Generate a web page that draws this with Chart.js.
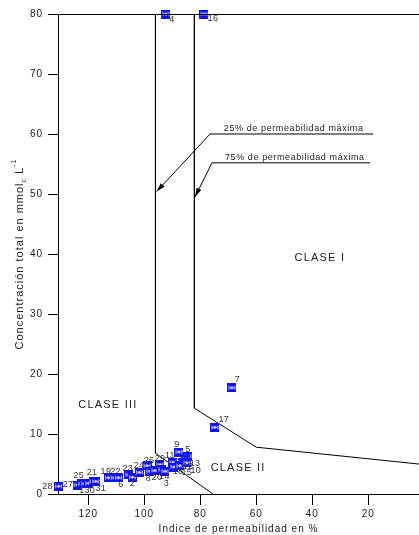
<!DOCTYPE html>
<html>
<head>
<meta charset="utf-8">
<script src="https://cdn.jsdelivr.net/npm/chart.js@4.4.1/dist/chart.umd.min.js"></script>
<style>
  html, body { margin: 0; padding: 0; background: #fff; overflow: hidden; }
  /* el marco derecho del diagrama queda fuera de la ventana */
  #wrap { width: 425px; height: 535px; position: relative; }
</style>
</head>
<body>
<div id="wrap"><canvas id="c"></canvas></div>
<script>
// Muestras: índice de permeabilidad (%) y concentración total (mmolc L-1)
const sampleIds = [28, 27, 25, 1, 30, 21, 31, 19, 22, 6, 23, 2, 24, 26, 8, 29, 20, 14, 3, 11, 9, 5, 18, 12, 15, 13, 10, 4, 16, 7, 17];
const permIndex = [130.6, 124.0, 122.3, 121.2, 119.8, 118.3, 117.3, 112.8, 110.8, 109.2, 105.5, 104.2, 101.7, 99.0, 98.0, 94.4, 96.2, 93.7, 92.6, 89.8, 87.6, 84.4, 89.4, 86.5, 87.3, 85.1, 84.8, 92.3, 78.7, 68.7, 74.8];
const totalConc = [1.3, 1.5, 1.7, 1.7, 1.8, 2.1, 2.1, 2.7, 2.7, 2.7, 3.2, 2.8, 3.6, 4.7, 3.8, 4.9, 3.9, 4.1, 3.8, 5.3, 7.0, 6.3, 4.5, 5.3, 4.7, 5.8, 5.2, 80, 80, 17.7, 11.1];

// Límites de clase (25 % y 75 % de permeabilidad máxima)
const limit25X = [96.0, 96.0, 75.5];
const limit25Y = [80, 6.8, 0];
const limit75X = [82.1, 82.1, 60, 0];
const limit75Y = [80, 14.3, 7.8, 4.9];

// Flechas de leyenda
const arrow25X = [18.3, 76.5, 95.6];
const arrow25Y = [60, 60, 50.4];
const arrow75X = [19.4, 75.8, 81.9];
const arrow75Y = [55.2, 55.2, 49.5];
const arrowTexts = ['25% de permeabilidad máxima', '75% de permeabilidad máxima'];
const arrowTextAt = [[71.6, 60], [71.2, 55.2]];

// Rótulos de clase
const classNames = ['CLASE I', 'CLASE II', 'CLASE III'];
const classAt = [[37.3, 39.3], [66.5, 4.3], [113, 14.8]];

// Ejes
const xTicks = [120, 100, 80, 60, 40, 20];
const yTicks = [0, 10, 20, 30, 40, 50, 60, 70, 80];
const xTitle = 'Indice de permeabilidad en %';

// Desplazamiento (px) de cada número respecto a su marcador
const labelOffsets = [
  [-11, 0], [-9, 0], [-3, -8], [-3, 7], [1, 7], [-1, -8.5], [5, 7], [-2.5, -6.5], [1.5, -6.5], [2.5, 7],
  [-1, -6], [0, 6.5], [-0.5, -7], [2, -5.5], [-1.5, 7.5], [0, -6.5], [2, 6.5], [2.5, 7.5], [1.5, 12], [-3, -7],
  [-2, -7], [0, -7], [4, 5], [6, 4], [7, 7], [9, 4], [9, 8], [6, 6], [9, 5], [5.5, -8.5], [9, -7.5]
];

const toXY = (xs, ys) => xs.map((v, i) => ({ x: v, y: ys[i] }));

// Marcador: cuadro con aspa y círculo central
function makeMarker() {
  const s = 9, m = document.createElement('canvas');
  m.width = s; m.height = s;
  const g = m.getContext('2d');
  g.fillStyle = '#fff';
  g.fillRect(0, 0, s, s);
  g.strokeStyle = '#0a0aff';
  g.lineWidth = 1.3;
  g.strokeRect(0.7, 0.7, s - 1.4, s - 1.4);
  g.beginPath();
  g.moveTo(0.5, 0.5); g.lineTo(s - 0.5, s - 0.5);
  g.moveTo(s - 0.5, 0.5); g.lineTo(0.5, s - 0.5);
  g.stroke();
  g.fillStyle = '#0a0aff';
  g.beginPath(); g.moveTo(1, 1); g.lineTo(s - 1, 1); g.lineTo(s / 2, s / 2); g.closePath(); g.fill();
  g.beginPath(); g.moveTo(1, s - 1); g.lineTo(s - 1, s - 1); g.lineTo(s / 2, s / 2); g.closePath(); g.fill();
  g.fillStyle = '#fff';
  g.beginPath(); g.arc(s / 2, s / 2, 1.8, 0, Math.PI * 2); g.fill();
  g.lineWidth = 0.9;
  g.stroke();
  return m;
}

const FONT = '"Liberation Sans", Arial, sans-serif';
const TEXT = '#222';

const lineStyle = { showLine: true, pointRadius: 0, borderColor: '#000', borderWidth: 1, fill: false, tension: 0 };

const decor = {
  id: 'decor',
  beforeDraw(chart) {
    chart.ctx.letterSpacing = '0.9px';
  },
  afterDatasetsDraw(chart) {
    const { ctx, chartArea: a, scales: { x, y } } = chart;
    ctx.save();
    // línea superior del marco
    ctx.strokeStyle = '#000'; ctx.lineWidth = 1;
    ctx.beginPath(); ctx.moveTo(a.left, Math.round(a.top) + 0.5); ctx.lineTo(a.right, Math.round(a.top) + 0.5); ctx.stroke();

    // puntas de flecha
    [[arrow25X, arrow25Y], [arrow75X, arrow75Y]].forEach(([xs, ys]) => {
      const n = xs.length;
      const x1 = x.getPixelForValue(xs[n - 2]), y1 = y.getPixelForValue(ys[n - 2]);
      const x2 = x.getPixelForValue(xs[n - 1]), y2 = y.getPixelForValue(ys[n - 1]);
      const ang = Math.atan2(y2 - y1, x2 - x1), L = 9, W = 2.6;
      ctx.fillStyle = '#000';
      ctx.beginPath();
      ctx.moveTo(x2, y2);
      ctx.lineTo(x2 - L * Math.cos(ang) + W * Math.sin(ang), y2 - L * Math.sin(ang) - W * Math.cos(ang));
      ctx.lineTo(x2 - L * Math.cos(ang) - W * Math.sin(ang), y2 - L * Math.sin(ang) + W * Math.cos(ang));
      ctx.closePath(); ctx.fill();
    });

    // textos de las flechas
    ctx.fillStyle = TEXT;
    ctx.font = '9px ' + FONT;
    ctx.letterSpacing = '0.6px';
    ctx.textAlign = 'left'; ctx.textBaseline = 'alphabetic';
    arrowTexts.forEach((t, i) => {
      ctx.fillText(t, x.getPixelForValue(arrowTextAt[i][0]), y.getPixelForValue(arrowTextAt[i][1]) - 3);
    });

    // rótulos de clase
    ctx.font = '11px ' + FONT;
    ctx.letterSpacing = '1.2px';
    ctx.textAlign = 'center'; ctx.textBaseline = 'middle';
    classNames.forEach((t, i) => {
      ctx.fillText(t, x.getPixelForValue(classAt[i][0]), y.getPixelForValue(classAt[i][1]));
    });

    // números de muestra
    ctx.font = '9px ' + FONT;
    ctx.letterSpacing = '0.3px';
    ctx.fillStyle = '#333';
    const meta = chart.getDatasetMeta(0);
    meta.data.forEach((pt, i) => {
      const [dx, dy] = labelOffsets[i];
      ctx.fillText(String(sampleIds[i]), pt.x + dx, pt.y + dy);
    });
    ctx.restore();
  },
  afterDraw(chart) {
    const { ctx, chartArea: a } = chart;
    ctx.save();
    ctx.fillStyle = TEXT;
    // título del eje X
    ctx.font = '10px ' + FONT;
    ctx.letterSpacing = '1px';
    ctx.textAlign = 'center'; ctx.textBaseline = 'middle';
    ctx.fillText(xTitle, (a.left + a.right) / 2, 529);

    // título del eje Y con subíndice y superíndice
    const parts = [
      { t: 'Concentración total en mmol', s: 11, dy: 0 },
      { t: 'c', s: 7, dy: 4 },
      { t: ' L', s: 11, dy: 0 },
      { t: '-1', s: 7, dy: -6 }
    ];
    ctx.letterSpacing = '1px';
    let total = 0;
    parts.forEach(p => { ctx.font = p.s + 'px ' + FONT; p.w = ctx.measureText(p.t).width; total += p.w; });
    ctx.translate(20, (a.top + a.bottom) / 2);
    ctx.rotate(-Math.PI / 2);
    ctx.textAlign = 'left';
    let cx = -total / 2;
    parts.forEach(p => {
      ctx.font = p.s + 'px ' + FONT;
      ctx.fillText(p.t, cx, p.dy);
      cx += p.w;
    });
    ctx.restore();
  }
};

new Chart(document.getElementById('c'), {
  type: 'scatter',
  data: {
    datasets: [
      {
        label: 'Muestras',
        data: toXY(permIndex, totalConc),
        pointStyle: makeMarker(),
        pointRadius: 5,
        pointBorderWidth: 1,
        showLine: false,
        clip: false
      },
      { label: '25%', data: toXY(limit25X, limit25Y), ...lineStyle },
      { label: '75%', data: toXY(limit75X, limit75Y), ...lineStyle },
      { label: 'flecha 25%', data: toXY(arrow25X, arrow25Y), ...lineStyle },
      { label: 'flecha 75%', data: toXY(arrow75X, arrow75Y), ...lineStyle }
    ]
  },
  options: {
    responsive: true,
    maintainAspectRatio: false,
    devicePixelRatio: 1,
    animation: false,
    events: [],
    layout: { padding: { top: 14, right: 0, left: 0, bottom: 0 } },
    plugins: { legend: { display: false }, tooltip: { enabled: false } },
    scales: {
      x: {
        type: 'linear',
        reverse: true,
        min: 1.9,
        max: 130.8,
        afterBuildTicks(s) { s.ticks = xTicks.map(v => ({ value: v })); },
        afterFit(s) { s.height = 41; },
        grid: { drawOnChartArea: false, drawTicks: true, tickLength: 11, color: '#000', tickWidth: 1 },
        border: { display: true, color: '#000', width: 1 },
        ticks: { color: TEXT, font: { family: FONT, size: 10 }, padding: 3, maxRotation: 0, autoSkip: false }
      },
      y: {
        type: 'linear',
        min: 0,
        max: 80,
        afterBuildTicks(s) { s.ticks = yTicks.map(v => ({ value: v })); },
        afterFit(s) { s.width = 58; },
        grid: { drawOnChartArea: false, drawTicks: true, tickLength: 10, color: '#000', tickWidth: 1 },
        border: { display: true, color: '#000', width: 1 },
        ticks: { color: TEXT, font: { family: FONT, size: 10 }, padding: 5, autoSkip: false }
      }
    }
  },
  plugins: [decor]
});
</script>
</body>
</html>
